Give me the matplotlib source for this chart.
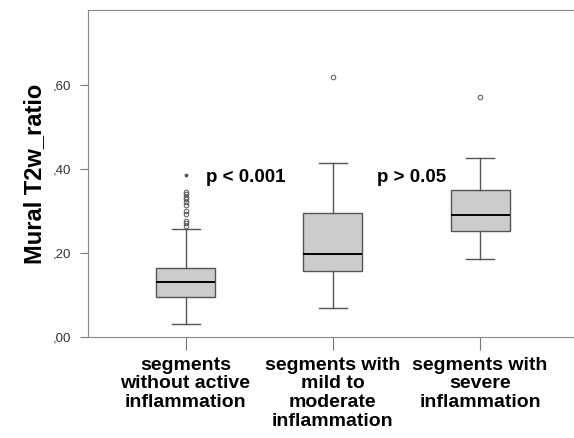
import numpy as np
import matplotlib.pyplot as plt

plt.rcParams['font.family'] = ['Liberation Sans', 'DejaVu Sans']

groups = ['segments\nwithout active\ninflammation',
          'segments with\nmild to\nmoderate\ninflammation',
          'segments with\nsevere\ninflammation']
medians = [0.132, 0.199, 0.291]
q1 = [0.096, 0.157, 0.252]
q3 = [0.164, 0.295, 0.350]
whislo = [0.033, 0.071, 0.186]
whishi = [0.257, 0.415, 0.426]
outliers = [[0.346, 0.340, 0.334, 0.328, 0.321, 0.314, 0.301, 0.294, 0.277, 0.271, 0.265],
            [0.620],
            [0.572]]
extremes = [[0.387], [], []]
yticks = [0.0, 0.2, 0.4, 0.6]
yticklabels = [',00', ',20', ',40', ',60']
pvals = ['p < 0.001', 'p > 0.05']
pval_x = [1.137, 2.297]
pval_y = [0.379, 0.379]

stats = []
for i in range(len(groups)):
    stats.append(dict(med=medians[i], q1=q1[i], q3=q3[i], whislo=whislo[i],
                      whishi=whishi[i], fliers=outliers[i], label=groups[i]))

fig = plt.figure(figsize=(5.74, 4.38), dpi=100)
ax = fig.add_axes([0.1533, 0.2295, 0.85, 0.7475])

edge = '#555555'
pos = np.arange(1, len(groups) + 1)
ax.bxp(stats, positions=pos, widths=0.4, capwidths=0.19, patch_artist=True,
       boxprops=dict(facecolor='#cccccc', edgecolor=edge, linewidth=1),
       medianprops=dict(color='black', linewidth=1.4),
       whiskerprops=dict(color=edge, linewidth=1),
       capprops=dict(color=edge, linewidth=1),
       flierprops=dict(marker='o', markersize=3.3, markerfacecolor='none',
                       markeredgecolor=edge, markeredgewidth=0.7))

for i, ex in enumerate(extremes):
    if ex:
        ax.plot([pos[i]] * len(ex), ex, linestyle='none', marker='*',
                markersize=2.5, color=edge)

for t, x, y in zip(pvals, pval_x, pval_y):
    ax.text(x, y, t, fontsize=13.5, fontweight='bold', va='center', ha='left')

ax.set_xlim(0.338, 3.65)
ax.set_ylim(0, 0.778)
ax.set_yticks(yticks)
ax.set_yticklabels(yticklabels, fontsize=9.5, color='#333333')
ax.set_xticks(pos)
ax.set_xticklabels(groups, fontsize=14, fontweight='bold', linespacing=1.12)
ax.tick_params(axis='y', length=6, color='#777777', pad=6)
ax.tick_params(axis='x', length=9, color='#777777', pad=5)
ax.set_ylabel('Mural T2w_ratio', fontsize=17, fontweight='bold', labelpad=5)

for s in ['left', 'bottom', 'top']:
    ax.spines[s].set_color('#888888')
ax.spines['right'].set_visible(False)

fig.savefig('out.png', dpi=100)
